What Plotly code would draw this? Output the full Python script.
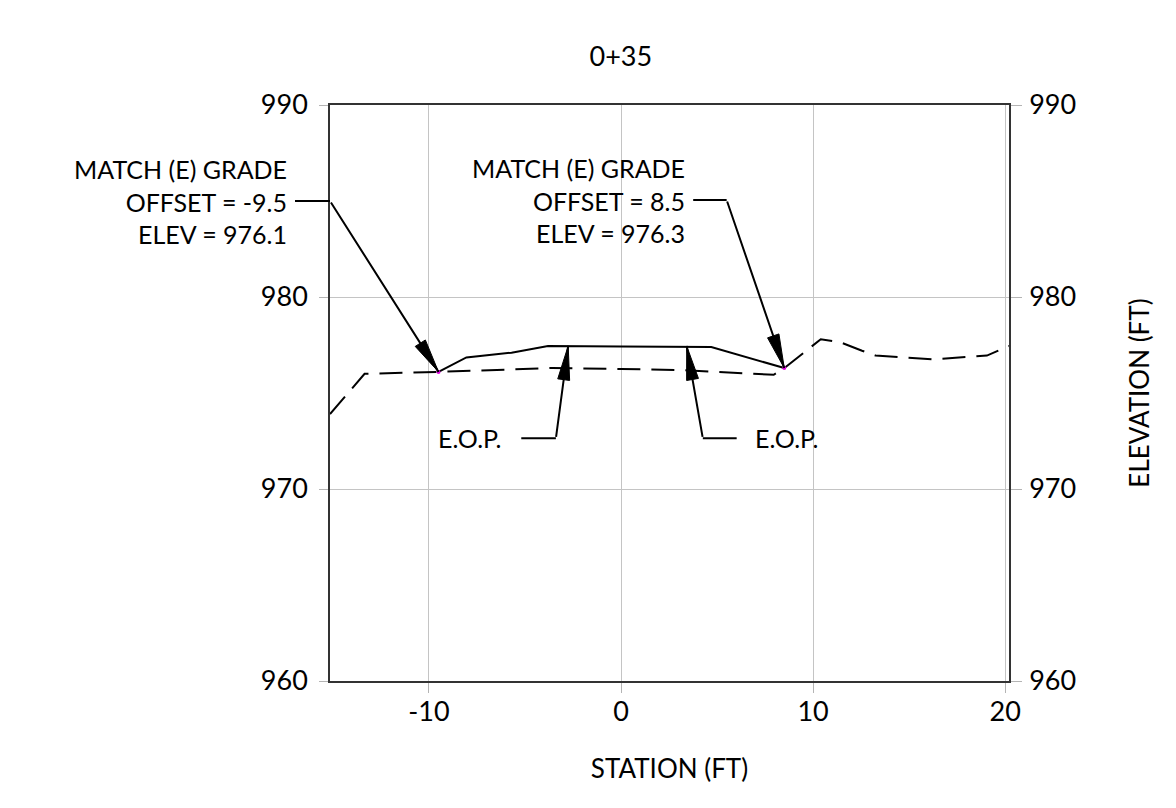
import math
import plotly.graph_objects as go

# ---------------- data ----------------
exist_offset = [-15.15, -13.35, -9.5, -3.6, 0.0, 3.0, 7.95, 8.5, 10.4, 11.4, 12.55, 13.25, 16.2, 19.05, 20.2]
exist_elev = [973.9, 976.0, 976.1, 976.3, 976.25, 976.2, 975.95, 976.3, 977.8, 977.65, 977.2, 976.95, 976.75, 976.95, 977.45]

prop_offset = [-9.5, -8.05, -5.7, -3.8, 0.0, 4.7, 8.5]
prop_elev = [976.1, 976.85, 977.1, 977.45, 977.42, 977.4, 976.3]

match_offset = [-9.5, 8.5]
match_elev = [976.1, 976.3]

eop_offset = [-2.75, 3.42]
eop_elev = [977.45, 977.45]

x_ticks = [-10, 0, 10, 20]
x_tick_text = ["-10", "0", "10", "20"]
y_ticks = [960, 970, 980, 990]

section_title = "0+35"
x_title = "STATION (FT)"
y_title = "ELEVATION (FT)"

# ---------------- layout constants ----------------
W, H = 1176, 808
M = dict(l=322, r=175, t=97, b=135, pad=0)
XR = [-15.15, 20.2]
YR = [960, 990]
PW = W - M["l"] - M["r"]
PH = H - M["t"] - M["b"]
sx = PW / (XR[1] - XR[0])
sy = PH / (YR[1] - YR[0])

FONT = "Lato, 'Open Sans', sans-serif"
TICK_FS = 27
TITLE_FS = 26
ANN_FS = 25
LINE_W = 2


def paper_x(xv):
    return (xv - XR[0]) / (XR[1] - XR[0])


fig = go.Figure()

fig.add_trace(go.Scatter(
    x=exist_offset, y=exist_elev, mode="lines",
    line=dict(color="black", width=LINE_W, dash="23px,11px"),
    showlegend=False, hoverinfo="skip"))

fig.add_trace(go.Scatter(
    x=prop_offset, y=prop_elev, mode="lines",
    line=dict(color="black", width=LINE_W),
    showlegend=False, hoverinfo="skip"))

fig.add_trace(go.Scatter(
    x=match_offset, y=match_elev, mode="markers",
    marker=dict(color="#e000e0", size=4),
    showlegend=False, hoverinfo="skip"))

# invisible trace to anchor the right-hand axis
fig.add_trace(go.Scatter(
    x=match_offset, y=match_elev, mode="markers", yaxis="y2",
    marker=dict(opacity=0), showlegend=False, hoverinfo="skip"))


def head(tip, tail, length=34, width=12):
    dx = (tip[0] - tail[0]) * sx
    dy = (tip[1] - tail[1]) * sy
    L = math.hypot(dx, dy)
    ux, uy = dx / L, dy / L
    bx, by = -ux * length, -uy * length
    px, py = -uy * width / 2, ux * width / 2
    pts = [(0, 0), (bx + px, by + py), (bx - px, by - py), (0, 0)]
    return ([tip[0] + p[0] / sx for p in pts], [tip[1] + p[1] / sy for p in pts])


def segment(p0, p1):
    fig.add_annotation(x=p1[0], y=p1[1], ax=p0[0], ay=p0[1],
                       xref="x", yref="y", axref="x", ayref="y",
                       text="", showarrow=True, arrowhead=0,
                       arrowwidth=LINE_W, arrowcolor="black")


# leader definitions: label, text anchor, elbow path, tip
leaders = [
    dict(text="MATCH (E) GRADE<br>OFFSET = %.1f<br>ELEV = %.1f" % (match_offset[0], match_elev[0]),
         tx=-17.3, ty=985.0, xanchor="right", align="right",
         path=[(-17.05, 985.0), (-15.15, 985.0)], tip=(match_offset[0], match_elev[0])),
    dict(text="MATCH (E) GRADE<br>OFFSET = %.1f<br>ELEV = %.1f" % (match_offset[1], match_elev[1]),
         tx=3.42, ty=985.05, xanchor="right", align="right",
         path=[(3.68, 985.05), (5.5, 985.05)], tip=(match_offset[1], match_elev[1])),
    dict(text="E.O.P.", tx=-6.1, ty=972.64, xanchor="right", align="right",
         path=[(-5.27, 972.64), (-3.39, 972.64)], tip=(eop_offset[0], eop_elev[0])),
    dict(text="E.O.P.", tx=6.85, ty=972.64, xanchor="left", align="left",
         path=[(6.1, 972.64), (4.26, 972.64)], tip=(eop_offset[1], eop_elev[1])),
]

for ld in leaders:
    fig.add_annotation(x=paper_x(ld["tx"]), y=ld["ty"], xref="paper", yref="y",
                       text=ld["text"], showarrow=False,
                       xanchor=ld["xanchor"], yanchor="middle", align=ld["align"],
                       font=dict(family=FONT, size=ANN_FS, color="black"))
    pts = ld["path"] + [ld["tip"]]
    for a, b in zip(pts[:-1], pts[1:]):
        segment(a, b)
    hx, hy = head(ld["tip"], pts[-2])
    fig.add_trace(go.Scatter(x=hx, y=hy, mode="lines", fill="toself",
                             fillcolor="black", line=dict(color="black", width=1),
                             showlegend=False, hoverinfo="skip"))

axis_common = dict(
    ticks="outside", tickcolor="#b4b4b4", tickwidth=1,
    showline=True, linecolor="#333333", linewidth=1.5,
    zeroline=False, tickfont=dict(family=FONT, size=TICK_FS, color="black"),
)

fig.update_layout(
    width=W, height=H, autosize=False,
    margin=M,
    paper_bgcolor="white", plot_bgcolor="white",
    font=dict(family=FONT, size=TICK_FS, color="black"),
    showlegend=False,
    title=dict(text=section_title, x=612.8 / W, xref="container", xanchor="center",
               y=1 - 48.7 / H, yref="container", yanchor="middle",
               font=dict(family=FONT, size=TICK_FS, color="black")),
    xaxis=dict(range=XR, tickvals=x_ticks, ticktext=x_tick_text, ticklen=10, mirror=True,
               showgrid=True, gridcolor="#c4c4c4", gridwidth=1,
               title=dict(text=x_title, standoff=34, font=dict(family=FONT, size=TITLE_FS)),
               ticklabelstandoff=-4, **axis_common),
    yaxis=dict(range=YR, tickvals=y_ticks, ticklen=9,
               showgrid=True, gridcolor="#c4c4c4", gridwidth=1,
               ticklabelstandoff=6, **axis_common),
    yaxis2=dict(range=YR, tickvals=y_ticks, ticklen=11, overlaying="y", side="right",
                showgrid=False, ticklabelstandoff=2,
                title=dict(text=y_title, standoff=56, font=dict(family=FONT, size=TITLE_FS)),
                **axis_common),
)

fig.write_html("out.html")
